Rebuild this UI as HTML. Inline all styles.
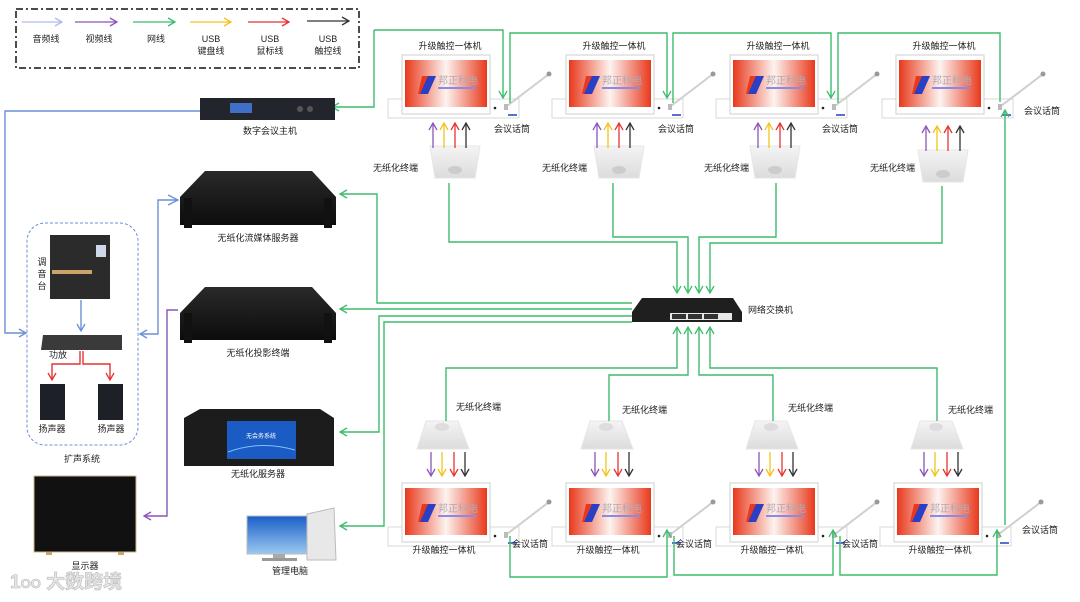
<!DOCTYPE html>
<html><head><meta charset="utf-8">
<style>
html,body{margin:0;padding:0;background:#fff;}
svg{display:block;font-family:"Liberation Sans","Noto Sans CJK SC",sans-serif;}
text{font-size:9px;fill:#222;}
</style></head><body>
<svg width="1080" height="602" viewBox="0 0 1080 602" xmlns="http://www.w3.org/2000/svg">
<defs>
 <marker id="mg" markerWidth="10" markerHeight="10" refX="8" refY="5" orient="auto" markerUnits="userSpaceOnUse"><path d="M1,1 L8,5 L1,9" fill="none" stroke="#3dbb6c" stroke-width="1.3"/></marker>
 <marker id="mb" markerWidth="10" markerHeight="10" refX="8" refY="5" orient="auto" markerUnits="userSpaceOnUse"><path d="M1,1 L8,5 L1,9" fill="none" stroke="#6b8fd6" stroke-width="1.3"/></marker>
 <marker id="ma" markerWidth="10" markerHeight="10" refX="8" refY="5" orient="auto" markerUnits="userSpaceOnUse"><path d="M1,1 L8,5 L1,9" fill="none" stroke="#aebde8" stroke-width="1.3"/></marker>
 <marker id="mp" markerWidth="10" markerHeight="10" refX="8" refY="5" orient="auto" markerUnits="userSpaceOnUse"><path d="M1,1 L8,5 L1,9" fill="none" stroke="#8a55b8" stroke-width="1.3"/></marker>
 <marker id="my" markerWidth="10" markerHeight="10" refX="8" refY="5" orient="auto" markerUnits="userSpaceOnUse"><path d="M1,1 L8,5 L1,9" fill="none" stroke="#f2c21b" stroke-width="1.3"/></marker>
 <marker id="mr" markerWidth="10" markerHeight="10" refX="8" refY="5" orient="auto" markerUnits="userSpaceOnUse"><path d="M1,1 L8,5 L1,9" fill="none" stroke="#e63232" stroke-width="1.3"/></marker>
 <marker id="mk" markerWidth="10" markerHeight="10" refX="8" refY="5" orient="auto" markerUnits="userSpaceOnUse"><path d="M1,1 L8,5 L1,9" fill="none" stroke="#333" stroke-width="1.3"/></marker>
 <linearGradient id="scr" x1="0" x2="1" y1="0" y2="0">
  <stop offset="0" stop-color="#e8391c"/><stop offset="0.5" stop-color="#fdf3f0"/><stop offset="1" stop-color="#e8391c"/>
 </linearGradient>
 <linearGradient id="term" x1="0" x2="0" y1="0" y2="1">
  <stop offset="0" stop-color="#f4f4f4"/><stop offset="1" stop-color="#dcdcdc"/>
 </linearGradient>
 <linearGradient id="blk" x1="0" x2="0" y1="0" y2="1">
  <stop offset="0" stop-color="#2a2a2a"/><stop offset="1" stop-color="#0c0c0c"/>
 </linearGradient>
 <linearGradient id="sky" x1="0" x2="0" y1="0" y2="1">
  <stop offset="0" stop-color="#1a5fc8"/><stop offset="1" stop-color="#9cc8f0"/>
 </linearGradient>
 <g id="unit">
  <rect x="0" y="99" width="131" height="19" fill="#fff" stroke="#d8d8d8"/>
  <rect x="14" y="55" width="88" height="59" fill="#fff" stroke="#cfcfcf"/>
  <rect x="17" y="60" width="82" height="47" fill="url(#scr)"/>
  <polygon points="34,76 44,76 40,94 30,94" fill="#e8391c"/>
  <polygon points="40,76 48,76 40,94 32,94" fill="#2a3fc4"/>
  <text x="50" y="84" style="font-size:10px;fill:#b0a8b4">邦正科电</text>
  <rect x="50" y="87" width="38" height="2" fill="#8a8ae6"/>
  <circle cx="107" cy="108" r="1.3" fill="#222"/>
  <line x1="119" y1="106" x2="161" y2="74" stroke="#cfcfcf" stroke-width="2"/>
  <circle cx="161" cy="74" r="2.5" fill="#999"/>
  <rect x="116" y="104" width="4" height="6" fill="#bbb"/>
  <rect x="120" y="114" width="9" height="2" fill="#5a6fd0"/>
 </g>
</defs>

<!-- legend -->
<rect x="16" y="9" width="343" height="59" fill="none" stroke="#111" stroke-width="1.5" stroke-dasharray="7,3,2,3"/>
<line x1="22" y1="22" x2="62" y2="22" stroke="#aebde8" stroke-width="1.3" marker-end="url(#ma)"/>
<line x1="75" y1="22" x2="117" y2="22" stroke="#8a55b8" stroke-width="1.3" marker-end="url(#mp)"/>
<line x1="133" y1="22" x2="175" y2="22" stroke="#3dbb6c" stroke-width="1.3" marker-end="url(#mg)"/>
<line x1="190" y1="22" x2="231" y2="22" stroke="#f2c21b" stroke-width="1.3" marker-end="url(#my)"/>
<line x1="248" y1="22" x2="289" y2="22" stroke="#e63232" stroke-width="1.3" marker-end="url(#mr)"/>
<line x1="307" y1="21" x2="349" y2="21" stroke="#333" stroke-width="1.3" marker-end="url(#mk)"/>
<g text-anchor="middle">
<text x="46" y="42">音频线</text><text x="99" y="42">视频线</text><text x="156" y="42">网线</text>
<text x="211" y="42">USB</text><text x="211" y="54">键盘线</text>
<text x="270" y="42">USB</text><text x="270" y="54">鼠标线</text>
<text x="328" y="42">USB</text><text x="328" y="54">触控线</text>
</g>

<!-- top units -->
<use href="#unit" x="388" y="0"/><use href="#unit" x="552" y="0"/><use href="#unit" x="716" y="0"/><use href="#unit" x="882" y="0"/>
<g text-anchor="middle">
<text x="450" y="49">升级触控一体机</text><text x="614" y="49">升级触控一体机</text><text x="778" y="49">升级触控一体机</text><text x="944" y="49">升级触控一体机</text>
<text x="512" y="132">会议话筒</text><text x="676" y="132">会议话筒</text><text x="840" y="132">会议话筒</text><text x="1042" y="114">会议话筒</text>
</g>
<!-- bottom units -->
<use href="#unit" x="388" y="428"/><use href="#unit" x="552" y="428"/><use href="#unit" x="716" y="428"/><use href="#unit" x="880" y="428"/>
<g text-anchor="middle">
<text x="444" y="553">升级触控一体机</text><text x="608" y="553">升级触控一体机</text><text x="772" y="553">升级触控一体机</text><text x="940" y="553">升级触控一体机</text>
<text x="530" y="547">会议话筒</text><text x="694" y="547">会议话筒</text><text x="860" y="547">会议话筒</text><text x="1040" y="533">会议话筒</text>
</g>

<!-- top terminals -->
<g>
 <polygon points="430,146 480,146 475,178 435,178" fill="url(#term)" stroke="#e6e6e6"/>
 <ellipse cx="455" cy="170" rx="7" ry="4" fill="#ccc"/>
 <polygon points="594,146 644,146 639,178 599,178" fill="url(#term)" stroke="#e6e6e6"/>
 <ellipse cx="619" cy="170" rx="7" ry="4" fill="#ccc"/>
 <polygon points="750,146 800,146 795,178 755,178" fill="url(#term)" stroke="#e6e6e6"/>
 <ellipse cx="775" cy="170" rx="7" ry="4" fill="#ccc"/>
 <polygon points="918,150 968,150 963,182 923,182" fill="url(#term)" stroke="#e6e6e6"/>
 <ellipse cx="943" cy="174" rx="7" ry="4" fill="#ccc"/>
</g>
<g>
 <text x="373" y="171">无纸化终端</text><text x="542" y="171">无纸化终端</text><text x="704" y="171">无纸化终端</text><text x="870" y="171">无纸化终端</text>
</g>
<g stroke-width="1.3">
 <line x1="433" y1="148" x2="433" y2="123" stroke="#8a55b8" marker-end="url(#mp)"/>
 <line x1="444" y1="148" x2="444" y2="123" stroke="#f2c21b" marker-end="url(#my)"/>
 <line x1="455" y1="148" x2="455" y2="123" stroke="#e63232" marker-end="url(#mr)"/>
 <line x1="466" y1="148" x2="466" y2="123" stroke="#333" marker-end="url(#mk)"/>
 <line x1="597" y1="148" x2="597" y2="123" stroke="#8a55b8" marker-end="url(#mp)"/>
 <line x1="608" y1="148" x2="608" y2="123" stroke="#f2c21b" marker-end="url(#my)"/>
 <line x1="619" y1="148" x2="619" y2="123" stroke="#e63232" marker-end="url(#mr)"/>
 <line x1="630" y1="148" x2="630" y2="123" stroke="#333" marker-end="url(#mk)"/>
 <line x1="758" y1="148" x2="758" y2="123" stroke="#8a55b8" marker-end="url(#mp)"/>
 <line x1="769" y1="148" x2="769" y2="123" stroke="#f2c21b" marker-end="url(#my)"/>
 <line x1="780" y1="148" x2="780" y2="123" stroke="#e63232" marker-end="url(#mr)"/>
 <line x1="791" y1="148" x2="791" y2="123" stroke="#333" marker-end="url(#mk)"/>
 <line x1="926" y1="151" x2="926" y2="126" stroke="#8a55b8" marker-end="url(#mp)"/>
 <line x1="937" y1="151" x2="937" y2="126" stroke="#f2c21b" marker-end="url(#my)"/>
 <line x1="948" y1="151" x2="948" y2="126" stroke="#e63232" marker-end="url(#mr)"/>
 <line x1="960" y1="151" x2="960" y2="126" stroke="#333" marker-end="url(#mk)"/>
</g>

<!-- bottom terminals -->
<g>
 <polygon points="426,421 458,421 469,449 417,449" fill="url(#term)" stroke="#e6e6e6"/>
 <ellipse cx="442" cy="427" rx="7" ry="4" fill="#ddd"/>
 <polygon points="590,421 622,421 633,449 581,449" fill="url(#term)" stroke="#e6e6e6"/>
 <ellipse cx="606" cy="427" rx="7" ry="4" fill="#ddd"/>
 <polygon points="755,421 787,421 798,449 746,449" fill="url(#term)" stroke="#e6e6e6"/>
 <ellipse cx="771" cy="427" rx="7" ry="4" fill="#ddd"/>
 <polygon points="920,421 952,421 963,449 911,449" fill="url(#term)" stroke="#e6e6e6"/>
 <ellipse cx="936" cy="427" rx="7" ry="4" fill="#ddd"/>
 <text x="456" y="410">无纸化终端</text><text x="622" y="413">无纸化终端</text><text x="788" y="411">无纸化终端</text><text x="948" y="413">无纸化终端</text>
</g>
<g stroke-width="1.3">
 <line x1="431" y1="452" x2="431" y2="476" stroke="#8a55b8" marker-end="url(#mp)"/>
 <line x1="442" y1="452" x2="442" y2="476" stroke="#f2c21b" marker-end="url(#my)"/>
 <line x1="454" y1="452" x2="454" y2="476" stroke="#e63232" marker-end="url(#mr)"/>
 <line x1="465" y1="452" x2="465" y2="476" stroke="#333" marker-end="url(#mk)"/>
 <line x1="595" y1="452" x2="595" y2="476" stroke="#8a55b8" marker-end="url(#mp)"/>
 <line x1="606" y1="452" x2="606" y2="476" stroke="#f2c21b" marker-end="url(#my)"/>
 <line x1="618" y1="452" x2="618" y2="476" stroke="#e63232" marker-end="url(#mr)"/>
 <line x1="629" y1="452" x2="629" y2="476" stroke="#333" marker-end="url(#mk)"/>
 <line x1="759" y1="452" x2="759" y2="476" stroke="#8a55b8" marker-end="url(#mp)"/>
 <line x1="770" y1="452" x2="770" y2="476" stroke="#f2c21b" marker-end="url(#my)"/>
 <line x1="782" y1="452" x2="782" y2="476" stroke="#e63232" marker-end="url(#mr)"/>
 <line x1="793" y1="452" x2="793" y2="476" stroke="#333" marker-end="url(#mk)"/>
 <line x1="924" y1="452" x2="924" y2="476" stroke="#8a55b8" marker-end="url(#mp)"/>
 <line x1="935" y1="452" x2="935" y2="476" stroke="#f2c21b" marker-end="url(#my)"/>
 <line x1="947" y1="452" x2="947" y2="476" stroke="#e63232" marker-end="url(#mr)"/>
 <line x1="958" y1="452" x2="958" y2="476" stroke="#333" marker-end="url(#mk)"/>
</g>

<!-- switch -->
<polygon points="642,298 733,298 742,312 742,322 632,322 632,312" fill="#1f1f1f"/>
<rect x="670" y="313" width="62" height="7" fill="#e8e8e8"/>
<g fill="#333"><rect x="672" y="314" width="14" height="5"/><rect x="688" y="314" width="14" height="5"/><rect x="704" y="314" width="14" height="5"/></g>
<text x="748" y="313">网络交换机</text>

<!-- green network lines -->
<g fill="none" stroke="#3dbb6c" stroke-width="1.4">
 <path d="M449,183 V242 H677 V293" marker-end="url(#mg)"/>
 <path d="M613,183 V237 H688 V293" marker-end="url(#mg)"/>
 <path d="M776,183 V237 H699 V293" marker-end="url(#mg)"/>
 <path d="M942,186 V243 H710 V293" marker-end="url(#mg)"/>
 <path d="M446,421 V368 H677 V327" marker-end="url(#mg)"/>
 <path d="M609,421 V375 H688 V327" marker-end="url(#mg)"/>
 <path d="M773,421 V375 H699 V327" marker-end="url(#mg)"/>
 <path d="M937,421 V368 H710 V327" marker-end="url(#mg)"/>
 <path d="M632,303 H377 V194 H340" marker-end="url(#mg)"/>
 <path d="M632,309 H340" marker-end="url(#mg)"/>
 <path d="M632,316 H379 V432 H340" marker-end="url(#mg)"/>
 <path d="M632,322 H384 V526 H340" marker-end="url(#mg)"/>
 <path d="M374,30 V107 H332" marker-end="url(#mg)"/>
 <path d="M374,30 H503 V98" marker-end="url(#mg)"/>
 <path d="M510,103 V33 H667 V98" marker-end="url(#mg)"/>
 <path d="M673,103 V33 H831 V98" marker-end="url(#mg)"/>
 <path d="M838,103 V33 H1000 V102"/>
 <path d="M1005,525 V110" marker-end="url(#mg)"/>
 <path d="M510,536 V577 H667 V530" marker-end="url(#mg)"/>
 <path d="M674,536 V575 H833 V530" marker-end="url(#mg)"/>
 <path d="M840,536 V575 H997 V530" marker-end="url(#mg)"/>
</g>

<!-- conference host -->
<rect x="200" y="98" width="135" height="22" fill="#22252b"/>
<rect x="230" y="103" width="22" height="10" fill="#3f6fc8"/>
<circle cx="300" cy="109" r="3" fill="#555"/><circle cx="310" cy="109" r="3" fill="#555"/>
<text x="270" y="134" text-anchor="middle">数字会议主机</text>

<!-- servers -->
<polygon points="205,171 312,171 336,197 336,225 180,225 180,197" fill="url(#blk)"/>
<rect x="184" y="198" width="8" height="30" fill="#111"/><rect x="324" y="198" width="8" height="30" fill="#111"/>
<text x="258" y="241" text-anchor="middle">无纸化流媒体服务器</text>
<polygon points="205,287 312,287 336,313 336,340 180,340 180,313" fill="url(#blk)"/>
<rect x="184" y="313" width="8" height="30" fill="#111"/><rect x="324" y="313" width="8" height="30" fill="#111"/>
<text x="258" y="356" text-anchor="middle">无纸化投影终端</text>
<polygon points="200,409 320,409 334,418 334,466 184,466 184,418" fill="#1c1c1c"/>
<rect x="227" y="421" width="69" height="38" fill="#1b5cc4"/>
<text x="261" y="438" text-anchor="middle" style="font-size:6px;fill:#fff">无会务系统</text>
<path d="M228,452 Q260,440 295,450" stroke="#7fc0ff" fill="none"/>
<text x="258" y="477" text-anchor="middle">无纸化服务器</text>

<!-- PC -->
<rect x="247" y="516" width="62" height="38" fill="url(#sky)" stroke="#bbb"/>
<rect x="273" y="554" width="12" height="5" fill="#aaa"/>
<rect x="262" y="558" width="35" height="3" fill="#999"/>
<polygon points="307,514 334,508 336,560 307,560" fill="#e8e8e8" stroke="#bbb"/>
<text x="290" y="574" text-anchor="middle">管理电脑</text>

<!-- blue/purple lines left -->
<g fill="none" stroke-width="1.4">
 <path d="M200,111 H5 V333 H26" stroke="#6b8fd6" marker-end="url(#mb)"/>
 <path d="M178,200 H158 V334 H140" stroke="#6b8fd6" marker-end="url(#mb)"/>
 <path d="M178,310 H167 V516 H144" stroke="#8a55b8" marker-end="url(#mp)"/>
 <path d="M81,300 V331" stroke="#6b8fd6" marker-end="url(#mb)"/>
 <path d="M80,351 V364 H52 V380" stroke="#e63232" marker-end="url(#mr)"/>
 <path d="M83,351 V364 H110 V380" stroke="#e63232" marker-end="url(#mr)"/>
</g>
<path d="M168,195 L178,200 L168,205" fill="none" stroke="#6b8fd6" stroke-width="1.3"/>

<!-- sound system -->
<rect x="27" y="223" width="111" height="222" rx="18" fill="none" stroke="#6b8fd6" stroke-dasharray="3,2"/>
<rect x="50" y="235" width="60" height="64" fill="#2b2b2b"/>
<rect x="52" y="270" width="40" height="4" fill="#c9a56a"/>
<rect x="96" y="245" width="10" height="12" fill="#cfd8e8"/>
<text x="42" y="265" text-anchor="middle">调</text><text x="42" y="277" text-anchor="middle">音</text><text x="42" y="289" text-anchor="middle">台</text>
<polygon points="43,335 122,335 122,350 41,350" fill="#3a3a3a"/>
<text x="58" y="358" text-anchor="middle">功放</text>
<rect x="40" y="384" width="25" height="36" fill="#1e2028"/>
<rect x="98" y="384" width="25" height="36" fill="#1e2028"/>
<text x="52" y="432" text-anchor="middle">扬声器</text><text x="111" y="432" text-anchor="middle">扬声器</text>
<text x="82" y="462" text-anchor="middle">扩声系统</text>

<!-- TV -->
<rect x="34" y="476" width="102" height="76" fill="#111" stroke="#c9b98a"/>
<rect x="46" y="552" width="6" height="3" fill="#c9a56a"/><rect x="118" y="552" width="6" height="3" fill="#c9a56a"/>
<text x="85" y="569" text-anchor="middle">显示器</text>

<!-- watermark -->
<text x="10" y="588" style="font-size:19px;fill:#e6e6e6;font-weight:bold;stroke:#bbb;stroke-width:0.6">1<tspan style="font-size:13px">OO</tspan> 大数跨境</text>
</svg>
</body></html>
